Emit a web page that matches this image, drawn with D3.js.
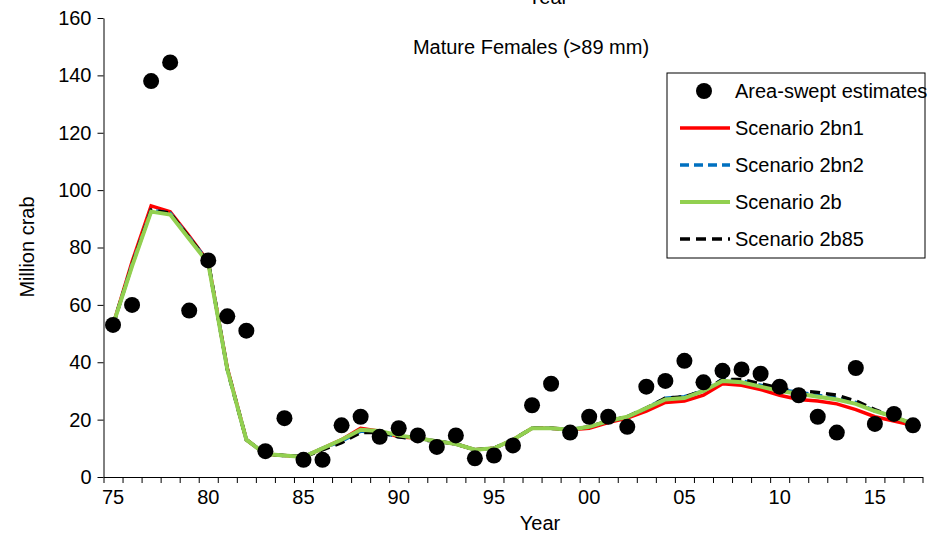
<!DOCTYPE html><html><head><script src="https://cdn.jsdelivr.net/npm/d3@7"></script>
<style>body{margin:0;background:#fff}text{font-family:"Liberation Sans",Arial,sans-serif}</style></head><body>
<svg id="c" width="944" height="536"></svg>
<script>
const years=d3.range(1975,2018);
const survey=[53,60,138,144.5,58,75.5,56,51,9,20.5,6,6,18,21,14,17,14.5,10.5,14.5,6.5,7.5,11,25,32.5,15.5,21,21,17.5,31.5,33.5,40.5,33,37,37.5,36,31.5,28.5,21,15.5,38,18.5,22,18];
const s2bn1=[53,75,94.5,92.5,84,75,38,13,8,7.5,7,10,13,17,16,14,13.5,12.5,11.5,9.5,10,13,17,17,16.5,17,19,20.5,23,26,26.5,28.5,32.5,32,30.5,28.5,27,26.5,25.5,23.5,21,19.5,18];
const s2bn2=[53,74,93,92,83.5,75,37.5,13,8,7.5,7,10,12.5,16,15.5,14,13.5,12.5,11.5,9.5,10,13,17,17,16.5,17.5,19.5,21,24,27.5,28,30,34,33.5,32,30.5,29.5,28.5,27.5,26,23,21,18.5];
const s2b=[53,73.5,92.5,91.5,83,74.5,37.5,13,8,7.5,7,10,13,16.5,16,14.5,13.5,12.5,11.5,9.5,10,13,17,17,16.5,17.5,19.5,21,24,27,27.5,30,33.5,33,31.5,30,29,28,27,25.5,23,21,18.5];
const s2b85=[53,74,93,92,83.5,75,37.5,13,8,7.5,7,9.5,12,15.5,15.5,14,13,12.5,11.5,9.5,10,13,17,17,16.5,17.5,19.5,21,24,27.5,28,30,34,34,32.5,31,30,29.5,28.5,26.5,23.5,21,18.5];
const yTicks=[0,20,40,60,80,100,120,140,160];
const xLabels=["75","80","85","90","95","00","05","10","15"];
const svg=d3.select("#c");
const x=d3.scaleLinear().domain([1974.5,2017.5]).range([103.5,922.5]);
const y=d3.scaleLinear().domain([0,160]).range([477,18]);
svg.append("g").attr("transform","translate(103.5,0)").call(d3.axisLeft(y).tickValues(yTicks).tickSize(6).tickSizeOuter(0))
 .call(g=>{g.select(".domain").attr("stroke","#000");g.selectAll("text").attr("font-size",20).attr("fill","#000").attr("dx",-3).attr("font-family","Liberation Sans Narrow, Liberation Sans");});
svg.append("g").attr("transform","translate(0,477)").call(d3.axisBottom(x).tickValues(d3.range(1974.5,2018.5,1)).tickSize(6).tickSizeOuter(0).tickFormat(""))
 .call(g=>g.select(".domain").attr("stroke","#000"));
const T=(sel)=>sel.attr("font-family","Liberation Sans Narrow, Liberation Sans").attr("font-size",20);
T(svg.selectAll(".xl").data(xLabels).join("text").attr("x",(d,i)=>x(1975+5*i)).attr("y",504).attr("text-anchor","middle").text(d=>d));
T(svg.append("text").attr("x",540).attr("y",530).attr("text-anchor","middle").text("Year"));
T(svg.append("text").attr("x",548).attr("y",4).attr("text-anchor","middle").text("Year"));
T(svg.append("text").attr("transform","translate(34,247) rotate(-90)").attr("text-anchor","middle").text("Million crab"));
T(svg.append("text").attr("x",531).attr("y",54).attr("text-anchor","middle").text("Mature Females (>89 mm)"));
const line=d3.line().x((d,i)=>x(years[i])).y(d=>y(d));
const series=[
 {n:"Scenario 2bn1",d:s2bn1,c:"#ff0000",w:3.5,da:null},
 {n:"Scenario 2bn2",d:s2bn2,c:"#0070c0",w:3.5,da:"9,5"},
 {n:"Scenario 2b",d:s2b,c:"#92d050",w:4,da:null},
 {n:"Scenario 2b85",d:s2b85,c:"#000",w:3.5,da:"10,6"}];
[series[0],series[1],series[3],series[2]].forEach(s=>{
 svg.append("path").attr("d",line(s.d)).attr("fill","none").attr("stroke",s.c).attr("stroke-width",s.w).attr("stroke-dasharray",s.da);
});
svg.selectAll(".pt").data(survey).join("circle").attr("cx",(d,i)=>x(years[i])).attr("cy",d=>y(d)).attr("r",8).attr("fill","#000");
const lg=svg.append("g");
lg.append("rect").attr("x",667).attr("y",73).attr("width",258).attr("height",185).attr("fill","#fff").attr("stroke","#000");
lg.append("circle").attr("cx",704).attr("cy",91).attr("r",8);
T(lg.append("text").attr("x",735).attr("y",98).text("Area-swept estimates"));
series.forEach((s,i)=>{const yy=128+37*i;
 lg.append("line").attr("x1",680).attr("x2",730).attr("y1",yy).attr("y2",yy).attr("stroke",s.c).attr("stroke-width",s.w).attr("stroke-dasharray",s.da);
 T(lg.append("text").attr("x",735).attr("y",yy+7).text(s.n));});
</script></body></html>
